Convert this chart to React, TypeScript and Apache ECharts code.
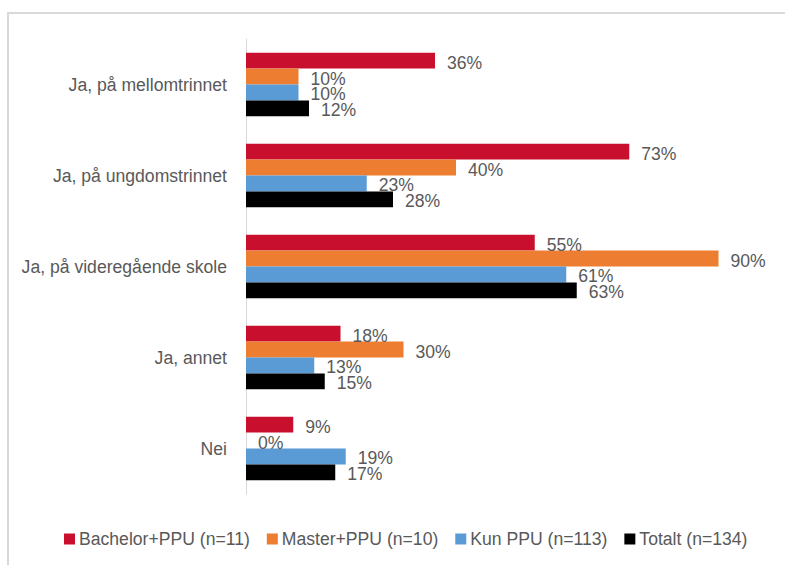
import React, { useEffect, useRef } from "react";
import * as echarts from "echarts";

const categories = [
  "Ja, på mellomtrinnet",
  "Ja, på ungdomstrinnet",
  "Ja, på videregående skole",
  "Ja, annet",
  "Nei",
];
const seriesNames = [
  "Bachelor+PPU (n=11)",
  "Master+PPU (n=10)",
  "Kun PPU (n=113)",
  "Totalt (n=134)",
];
const bachelorPPU = [36, 73, 55, 18, 9];
const masterPPU = [10, 40, 90, 30, 0];
const kunPPU = [10, 23, 61, 13, 19];
const totalt = [12, 28, 63, 15, 17];
const seriesColors = ["#C8102E", "#ED7D31", "#5B9BD5", "#000000"];

const FONT = "Liberation Sans";
const TEXT = "#595959";
const FS = 17.6;

export default function App() {
  const ref = useRef<HTMLDivElement>(null);
  useEffect(() => {
    document.body.style.margin = "0";
    if (!ref.current) return;
    const chart = echarts.init(ref.current, null, { renderer: "svg" });
    const values = [bachelorPPU, masterPPU, kunPPU, totalt];
    chart.setOption({
      animation: false,
      backgroundColor: "#ffffff",
      textStyle: { fontFamily: FONT },
      graphic: [
        {
          type: "rect",
          shape: { x: 8, y: 13, width: 820, height: 620 },
          style: { fill: "none", stroke: "#d9d9d9", lineWidth: 2 },
          silent: true,
        },
      ],
      grid: { left: 246, right: 14, top: 39, bottom: 71 },
      xAxis: {
        type: "value",
        min: 0,
        max: 100,
        show: false,
      },
      yAxis: {
        type: "category",
        data: categories,
        inverse: true,
        axisLine: { show: true, lineStyle: { color: "#d9d9d9", width: 1 } },
        axisTick: { show: false },
        axisLabel: {
          color: TEXT,
          fontSize: FS,
          fontFamily: FONT,
          margin: 19,
        },
      },
      legend: {
        left: 64,
        top: 530,
        padding: 0,
        icon: "rect",
        itemWidth: 11,
        itemHeight: 11,
        itemGap: 17,
        textStyle: { color: TEXT, fontSize: FS, fontFamily: FONT, padding: [0, 0, 0, -1] },
        data: seriesNames,
      },
      series: seriesNames.map((name, i) => ({
        name,
        type: "bar",
        data: values[i],
        barCategoryGap: "30%",
        barGap: "0%",
        itemStyle: { color: seriesColors[i] },
        label: {
          show: true,
          position: "right",
          distance: 12,
          formatter: "{c}%",
          color: TEXT,
          fontSize: FS,
          fontFamily: FONT,
          offset: [0, 2],
        },
      })),
    });
    return () => chart.dispose();
  }, []);
  return <div ref={ref} style={{ width: 785, height: 565 }} />;
}
